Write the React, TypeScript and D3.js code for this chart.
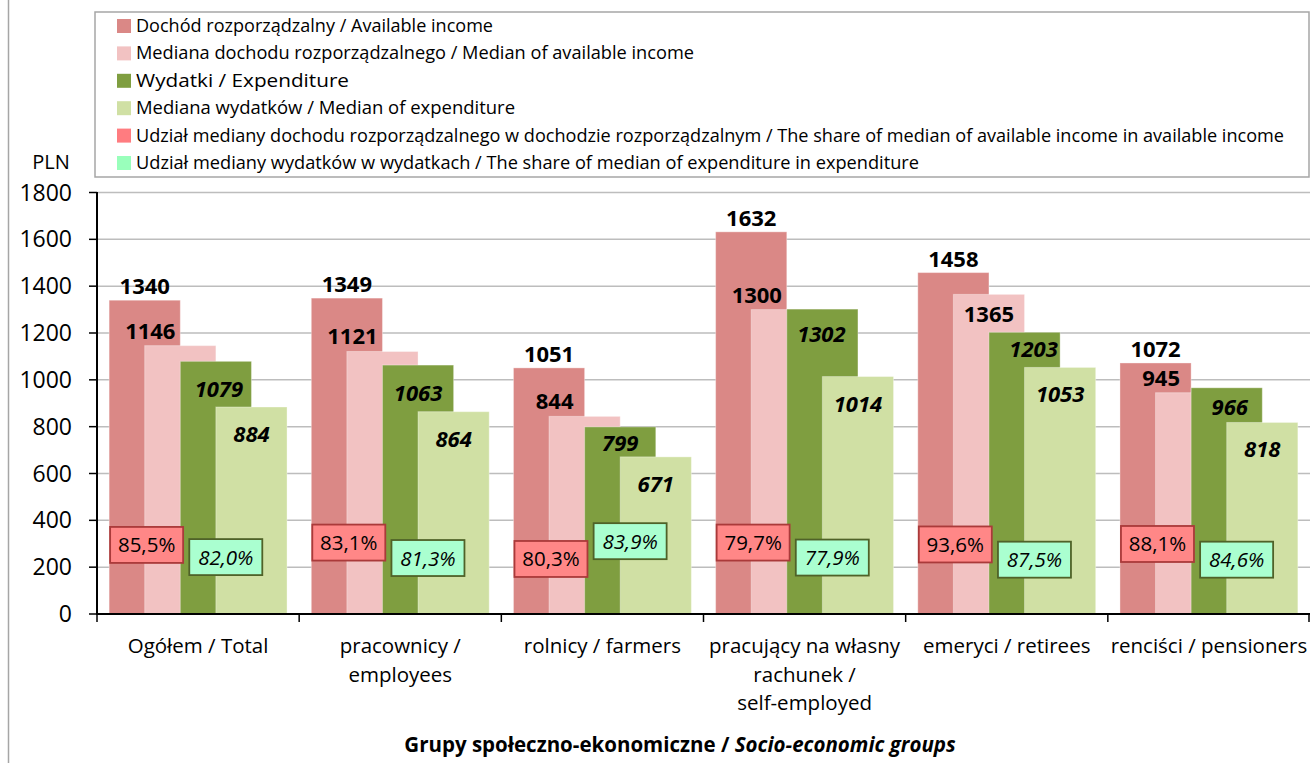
import React from "react";
import * as d3 from "d3";

const categories: string[][] = [
  ["Ogółem / Total"],
  ["pracownicy /", "employees"],
  ["rolnicy / farmers"],
  ["pracujący na własny", "rachunek /", "self-employed"],
  ["emeryci / retirees"],
  ["renciści / pensioners"],
];
const availableIncome = [1340, 1349, 1051, 1632, 1458, 1072];
const medianIncome = [1146, 1121, 844, 1300, 1365, 945];
const expenditure = [1079, 1063, 799, 1302, 1203, 966];
const medianExpenditure = [884, 864, 671, 1014, 1053, 818];
const shareIncome = [85.5, 83.1, 80.3, 79.7, 93.6, 88.1];
const shareExpenditure = [82.0, 81.3, 83.9, 77.9, 87.5, 84.6];
const yTicks = [0, 200, 400, 600, 800, 1000, 1200, 1400, 1600, 1800];
const legendLabels = [
  "Dochód rozporządzalny / Available income",
  "Mediana dochodu rozporządzalnego / Median of available income",
  "Wydatki / Expenditure",
  "Mediana wydatków / Median of expenditure",
  "Udział mediany dochodu rozporządzalnego w dochodzie rozporządzalnym / The share of median of available income in available income",
  "Udział mediany wydatków w wydatkach / The share of median of expenditure in expenditure",
];

// layout (not data)
const legendWidths = [357, 558, 213, 379, 1148, 783];
const seriesColors = ["#DA8886", "#F2C2C2", "#7F9E40", "#D0E0A4"];
const legendColors = ["#DA8886", "#F2C2C2", "#7F9E40", "#D0E0A4", "#FF7C80", "#99FFBB"];
const medIncInside = [false, false, false, false, true, false];
const expLabelDrop = [36, 36, 24, 33, 25, 27];
const expLabelShift = [3, 0, 0, -1, 9, 3];
const redBoxLevel = [295, 305, 235, 305, 297, 299];
const greenBoxLevel = [243, 239, 311, 241, 232, 232];

const W = 1311;
const H = 763;
const FONT = "'Open Sans', 'Noto Sans', sans-serif";

export default function App() {
  const y = d3.scaleLinear().domain([0, 1800]).range([614, 192.5]);
  const x0 = d3
    .scaleBand<number>()
    .domain(d3.range(categories.length))
    .range([97, 1310])
    .paddingInner(0)
    .paddingOuter(0);
  const band = x0.bandwidth();
  const pad = band * 0.06;
  const bw = (band - 2 * pad) / 2.5;
  const barX = (i: number, s: number) => (x0(i) as number) + pad + (s * bw) / 2;
  const series = [availableIncome, medianIncome, expenditure, medianExpenditure];
  const fmt = (v: number) => d3.format(".1f")(v).replace(".", ",") + "%";

  return (
    <svg
      width={W}
      height={H}
      style={{ position: "absolute", left: 0, top: 0, background: "#fff" }}
      fontFamily={FONT}
    >
      <rect x={0} y={0} width={W} height={H} fill="#fff" />
      <line x1={8.5} x2={8.5} y1={0} y2={H} stroke="#a6a6a6" strokeWidth={1.5} />

      {/* legend */}
      <rect x={95} y={12} width={1214} height={165} fill="#fff" stroke="#a6a6a6" strokeWidth={1.5} />
      {legendLabels.map((l, i) => {
        const cy = 26 + i * 27.4;
        return (
          <g key={l}>
            <rect x={117} y={cy - 7} width={14} height={14} fill={legendColors[i]} />
            <text
              x={136}
              y={cy + 6}
              fontSize={18}
              fill="#000"
              textLength={legendWidths[i]}
              lengthAdjust="spacingAndGlyphs"
            >
              {l}
            </text>
          </g>
        );
      })}

      {/* gridlines */}
      {yTicks.map((t) =>
        t === 0 ? null : (
          <line key={t} x1={97} x2={1310} y1={y(t)} y2={y(t)} stroke="#bdbdbd" strokeWidth={1.5} />
        )
      )}

      {/* bars */}
      {series.map((vals, s) =>
        vals.map((v, i) => (
          <rect
            key={`${s}-${i}`}
            x={barX(i, s)}
            y={y(v)}
            width={bw}
            height={y(0) - y(v)}
            fill={seriesColors[s]}
            stroke="#ffffff"
            strokeOpacity={0.35}
            strokeWidth={1}
          />
        ))
      )}

      {/* y axis */}
      <line x1={97} x2={97} y1={192} y2={615} stroke="#000" strokeWidth={2} />
      {yTicks.map((t) => (
        <g key={t}>
          <line x1={89} x2={97} y1={y(t)} y2={y(t)} stroke="#000" strokeWidth={1.5} />
          <text x={72} y={y(t) + 8} fontSize={23} textAnchor="end" fill="#000">
            {t}
          </text>
        </g>
      ))}
      <text x={51} y={169} fontSize={20} textAnchor="middle" fill="#000">
        PLN
      </text>

      {/* x axis */}
      <line x1={96} x2={1310} y1={614} y2={614} stroke="#000" strokeWidth={2} />
      {d3.range(categories.length + 1).map((i) => {
        const xx = i < categories.length ? (x0(i) as number) : 1309;
        return <line key={i} x1={xx} x2={xx} y1={614} y2={622} stroke="#000" strokeWidth={1.5} />;
      })}
      {categories.map((lines, i) => (
        <text
          key={i}
          x={(x0(i) as number) + band / 2}
          y={653}
          fontSize={20.5}
          textAnchor="middle"
          fill="#000"
        >
          {lines.map((ln, k) => (
            <tspan key={k} x={(x0(i) as number) + band / 2} dy={k === 0 ? 0 : 28.5}>
              {ln}
            </tspan>
          ))}
        </text>
      ))}
      <text x={680} y={752} fontSize={20.5} fontWeight="bold" textAnchor="middle" fill="#000">
        Grupy społeczno-ekonomiczne /{" "}
        <tspan fontStyle="italic">Socio-economic groups</tspan>
      </text>

      {/* value labels */}
      {categories.map((_, i) => {
        const c = (s: number) => barX(i, s) + bw / 2;
        return (
          <g key={i} fontSize={22} fontWeight="bold" textAnchor="middle" fill="#000">
            <text x={c(0)} y={y(availableIncome[i]) - 6}>
              {availableIncome[i]}
            </text>
            <text
              x={medIncInside[i] ? c(1) : c(1) - 30}
              y={medIncInside[i] ? y(medianIncome[i]) + 28 : y(medianIncome[i]) - 7}
            >
              {medianIncome[i]}
            </text>
            <text
              x={c(2) + expLabelShift[i]}
              y={y(expenditure[i]) + expLabelDrop[i]}
              fontStyle="italic"
            >
              {expenditure[i]}
            </text>
            <text x={c(3)} y={y(medianExpenditure[i]) + 35} fontStyle="italic">
              {medianExpenditure[i]}
            </text>
          </g>
        );
      })}

      {/* share boxes */}
      {categories.map((_, i) => {
        const rx = barX(i, 0) + 1;
        const ry = y(redBoxLevel[i]) - 18;
        const gx = barX(i, 2) + 9;
        const gy = y(greenBoxLevel[i]) - 18;
        return (
          <g key={i}>
            <rect x={rx} y={ry} width={73} height={36} fill="#FF8787" stroke="#AA3A3A" strokeWidth={1.8} />
            <text x={rx + 36.5} y={ry + 25.5} fontSize={20.5} textAnchor="middle" fill="#000">
              {fmt(shareIncome[i])}
            </text>
            <rect x={gx} y={gy} width={73} height={36} fill="#AAFFD0" stroke="#4F6228" strokeWidth={1.8} />
            <text
              x={gx + 36.5}
              y={gy + 25.5}
              fontSize={20.5}
              fontStyle="italic"
              textAnchor="middle"
              fill="#000"
            >
              {fmt(shareExpenditure[i])}
            </text>
          </g>
        );
      })}
    </svg>
  );
}
